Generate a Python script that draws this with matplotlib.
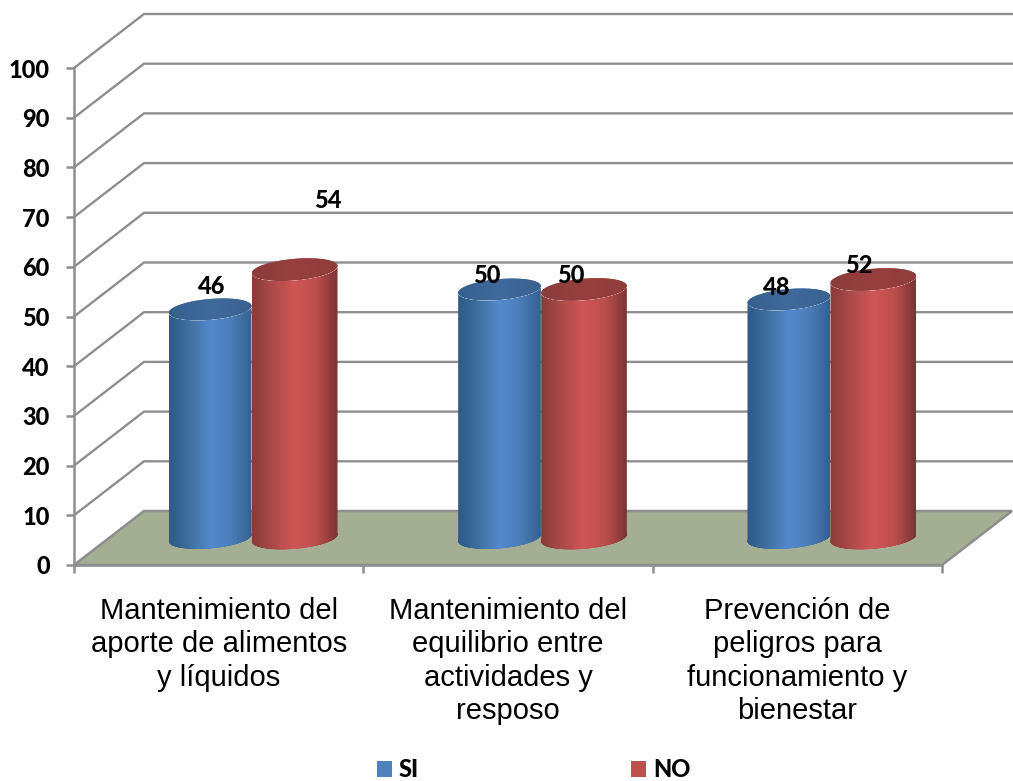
import matplotlib
matplotlib.use('Agg')
import matplotlib.pyplot as plt
import numpy as np
from matplotlib.colors import LinearSegmentedColormap
from matplotlib.patches import Patch, Polygon

categories = ['Mantenimiento del\naporte de alimentos\ny líquidos',
              'Mantenimiento del\nequilibrio entre\nactividades y\nresposo',
              'Prevención de\npeligros para\nfuncionamiento y\nbienestar']
si_values = [46, 50, 48]
no_values = [54, 50, 52]
y_ticks = list(range(0, 101, 10))

GREY = '#8e8e8e'
PX_X = 289.33   # pixels per category
PX_Y = 4.97     # pixels per unit of value
DEPTH_X = 70 / PX_X
DEPTH_Y = 54 / PX_Y
BOLD = ['Lato', 'DejaVu Sans']

fig = plt.figure(figsize=(10.13, 7.81), dpi=100)
ax = fig.add_axes([74 / 1013, (781 - 565) / 781, 868 / 1013, 497 / 781])
plt.rcParams['font.family'] = BOLD

# back wall grid and floor
ax.add_patch(Polygon([(0, 0), (DEPTH_X, DEPTH_Y), (3 + DEPTH_X, DEPTH_Y), (3, 0)],
                     facecolor='#a4ae92', edgecolor=GREY, lw=1.8, clip_on=False, zorder=1))
for v in y_ticks[1:]:
    ax.plot([0, DEPTH_X, 3 + DEPTH_X], [v, v + DEPTH_Y, v + DEPTH_Y], color=GREY, lw=1.7,
            clip_on=False, zorder=1, solid_joinstyle='miter')


def ellipse(cx, cy, half_px):
    t = np.linspace(0, 2 * np.pi, 181)
    tilt = np.radians(5)
    minor = half_px * 0.25
    ex = half_px * np.cos(t) * np.cos(tilt) - minor * np.sin(t) * np.sin(tilt)
    ey = half_px * np.cos(t) * np.sin(tilt) + minor * np.sin(t) * np.cos(tilt)
    return cx + ex / PX_X, cy + ey / PX_Y


def shade(poly, stops, z):
    cmap = LinearSegmentedColormap.from_list('shade', stops)
    im = ax.imshow(np.linspace(0, 1, 256)[None, :], cmap=cmap, aspect='auto', zorder=z,
                   extent=[poly[:, 0].min(), poly[:, 0].max(), -5, 105], interpolation='bilinear')
    patch = Polygon(poly, transform=ax.transData, facecolor='none', edgecolor='none')
    ax.add_patch(patch)
    im.set_clip_path(patch)


def cylinder(cx, value, half_px, body_stops, cap_stops, z):
    base = DEPTH_Y / 2
    bx, by = ellipse(cx, base, half_px)
    tx, ty = ellipse(cx, base + value, half_px)
    # lower half of the base joined to the lower half of the top
    i0, i1 = np.argmax(bx), np.argmin(bx)
    low = np.r_[np.arange(i1, len(bx) - 1), np.arange(0, i0 + 1)]
    up = low[::-1]
    body = np.r_[np.c_[bx[low], by[low]], np.c_[tx[up], ty[up]]]
    shade(body, body_stops, z)
    shade(np.c_[tx, ty], cap_stops, z + 0.1)


blue_body = ['#2d5a87', '#40709f', '#5589cd', '#4c7db9', '#355f8f']
blue_cap = ['#36608c', '#3f6a9c', '#3a628f']
red_body = ['#8a3b3a', '#ad4b4a', '#d05655', '#bb4f4d', '#7b3432']
red_cap = ['#8a3d3b', '#973f3e', '#8f3d3b']

# offsets of the value labels from the top of each bar, in pixels
si_offsets = [(1, 23), (-13, 14), (-12, 12)]
no_offsets = [(33, 69), (-13, 14), (-14, 14)]
for i in range(3):
    center = i + 0.5 + DEPTH_X / 2 - 2 / PX_X
    si_x = center - 41.5 / PX_X
    no_x = center + 43 / PX_X
    cylinder(si_x, si_values[i], 41.5, blue_body, blue_cap, 3 + i)
    cylinder(no_x, no_values[i], 43, red_body, red_cap, 3.5 + i)
    for x, val, off in ((si_x, si_values[i], si_offsets[i]), (no_x, no_values[i], no_offsets[i])):
        ax.annotate(str(val), xy=(x, val + DEPTH_Y / 2), xytext=off, textcoords='offset pixels',
                    ha='center', va='center', fontsize=17, fontweight=900,
                    family=BOLD, zorder=10, annotation_clip=False)

ax.set_xlim(0, 3)
ax.set_ylim(0, 100)
ax.patch.set_visible(False)
for side in ('top', 'right'):
    ax.spines[side].set_visible(False)
for side in ('left', 'bottom'):
    ax.spines[side].set_color(GREY)
    ax.spines[side].set_linewidth(1.8)
    ax.spines[side].set_zorder(2)

ax.set_yticks(y_ticks)
ax.set_yticklabels([str(v) for v in y_ticks], fontsize=17, fontweight=900, family=BOLD)
ax.tick_params(axis='y', length=5.5, width=1.8, color=GREY, pad=12)
ax.set_xticks([0, 1, 2, 3])
ax.set_xticklabels([])
ax.tick_params(axis='x', which='major', length=6, width=1.8, color=GREY)
ax.set_xticks([0.5, 1.5, 2.5], minor=True)
ax.set_xticklabels(categories, minor=True, fontsize=21, family='Liberation Sans',
                   linespacing=1.24, ha='center', va='top')
ax.tick_params(axis='x', which='minor', length=0, pad=23)

handles = [Patch(facecolor='#4f81bd', label='SI'), Patch(facecolor='#c0504d', label='NO')]
leg = fig.legend(handles=handles, ncols=2, frameon=False, loc='lower left',
                 bbox_to_anchor=(360 / 1013, -17 / 781), borderpad=0.2,
                 prop={'family': BOLD, 'weight': 900, 'size': 17},
                 handlelength=0.64, handleheight=0.64, handletextpad=0.3, columnspacing=9.0)

fig.savefig('out.png', dpi=100)
